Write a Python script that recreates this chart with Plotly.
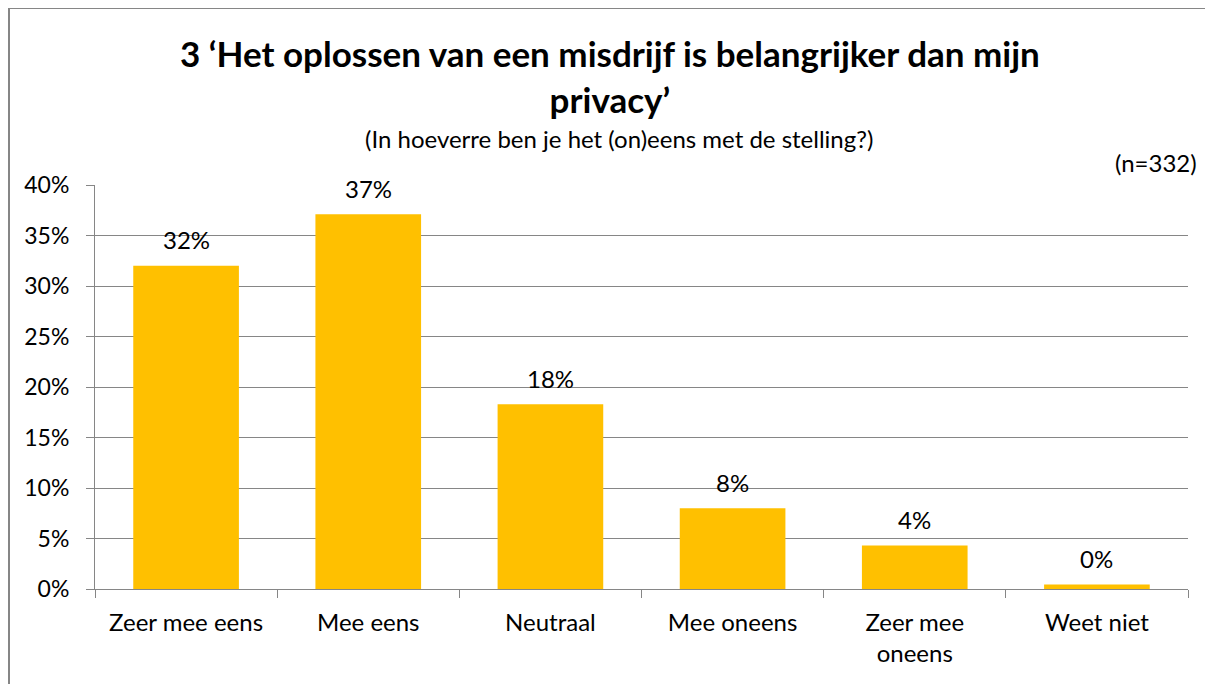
import plotly.graph_objects as go

# data
categories = ["Zeer mee eens", "Mee eens", "Neutraal", "Mee oneens", "Zeer mee<br>oneens", "Weet niet"]
percentages = [32.0, 37.1, 18.3, 8.0, 4.3, 0.45]
y_ticks = [0, 5, 10, 15, 20, 25, 30, 35, 40]

title_text = "3 ‘Het oplossen van een misdrijf is belangrijker dan mijn<br>privacy’"
subtitle_text = "(In hoeverre ben je het (on)eens met de stelling?)"
n_text = "(n=332)"

font_family = "Lato, 'Open Sans', sans-serif"
grey = "#868686"

# plot area position on the page (pixels), used to place the free text
PLOT_LEFT, PLOT_RIGHT, PLOT_TOP, PLOT_BOTTOM = 95, 1188, 185, 589


def px_x(x):
    return (x - PLOT_LEFT) / (PLOT_RIGHT - PLOT_LEFT)


def px_y(y):
    return (PLOT_BOTTOM - y) / (PLOT_BOTTOM - PLOT_TOP)


fig = go.Figure()
fig.add_trace(
    go.Bar(
        x=categories,
        y=percentages,
        marker=dict(color="#FFC000", line=dict(width=0)),
    )
)

# value labels above the bars
for cat, val in zip(categories, percentages):
    fig.add_annotation(
        x=cat, y=val,
        text=f"{val:.0f}%",
        showarrow=False,
        yanchor="middle",
        yshift=26,
        font=dict(size=24, color="black"),
    )

# the page body adds an 8px offset, so margins are shifted by 8
fig.update_layout(
    width=1205,
    height=676,
    margin=dict(l=87, r=25, t=177, b=95),
    paper_bgcolor="white",
    plot_bgcolor="white",
    font=dict(family=font_family, size=24, color="black"),
    bargap=0.42,
    showlegend=False,
)

fig.update_yaxes(
    range=[0, 40],
    tickvals=y_ticks,
    ticktext=[f"{v}%" for v in y_ticks],
    showgrid=True,
    gridcolor=grey,
    gridwidth=1,
    showline=True,
    linecolor=grey,
    linewidth=1,
    ticks="outside",
    ticklen=8,
    tickcolor=grey,
    ticklabelstandoff=12,
    zeroline=False,
    tickfont=dict(size=23),
)
fig.update_xaxes(
    showline=True,
    linecolor=grey,
    linewidth=1,
    ticks="outside",
    tickson="boundaries",
    ticklen=8,
    tickcolor=grey,
    ticklabelstandoff=12,
    tickfont=dict(size=24),
)

# title, subtitle and sample size
fig.add_annotation(
    text=f"<b>{title_text}</b>",
    xref="paper", yref="paper",
    x=px_x(610), y=px_y(76),
    xanchor="center", yanchor="middle",
    showarrow=False,
    font=dict(size=35, color="black"),
)
fig.add_annotation(
    text=subtitle_text,
    xref="paper", yref="paper",
    x=px_x(619), y=px_y(139),
    xanchor="center", yanchor="middle",
    showarrow=False,
    font=dict(size=24),
)
fig.add_annotation(
    text=n_text,
    xref="paper", yref="paper",
    x=px_x(1199), y=px_y(163),
    xanchor="right", yanchor="middle",
    showarrow=False,
    font=dict(size=24),
)

# outer chart border (only left and top edges are visible in the frame)
fig.add_shape(
    type="line", xref="paper", yref="paper",
    x0=px_x(9), x1=px_x(9), y0=px_y(700), y1=px_y(8),
    line=dict(color=grey, width=2), layer="below",
)
fig.add_shape(
    type="line", xref="paper", yref="paper",
    x0=px_x(9), x1=px_x(1225), y0=px_y(8), y1=px_y(8),
    line=dict(color=grey, width=2), layer="below",
)

fig.write_html("out.html", config={"displayModeBar": False})
